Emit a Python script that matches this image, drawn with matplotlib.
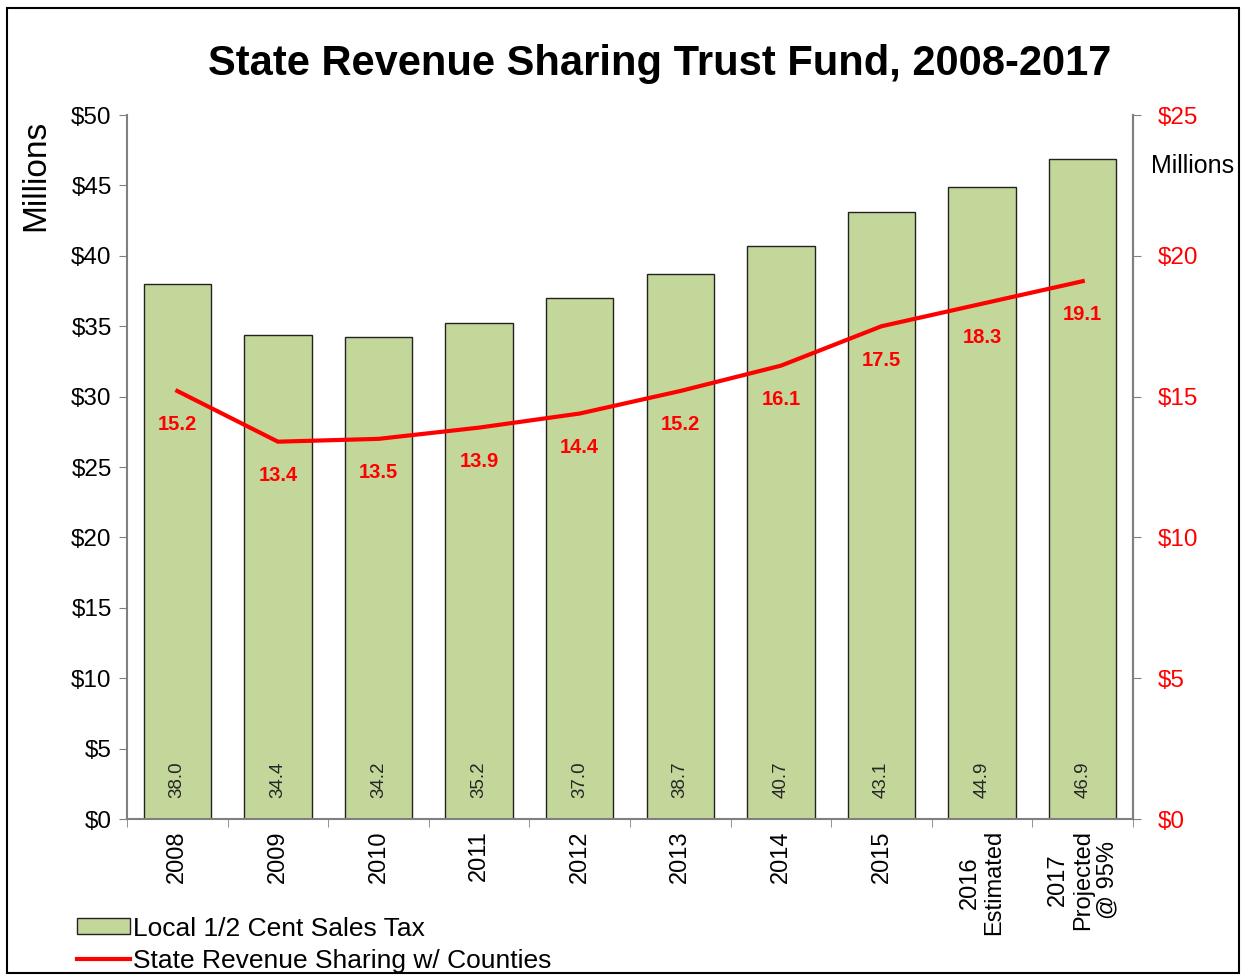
import matplotlib
matplotlib.use("Agg")
import matplotlib.pyplot as plt
import numpy as np
from matplotlib.patches import Rectangle

plt.rcParams['font.family'] = ['Liberation Sans', 'DejaVu Sans']

# data
years = ["2008", "2009", "2010", "2011", "2012", "2013", "2014", "2015",
         "2016\nEstimated", "2017\nProjected\n@ 95%"]
sales_tax = [38.0, 34.4, 34.2, 35.2, 37.0, 38.7, 40.7, 43.1, 44.9, 46.9]
state_sharing = [15.2, 13.4, 13.5, 13.9, 14.4, 15.2, 16.1, 17.5, 18.3, 19.1]

left_ticks = np.arange(0, 51, 5)
right_ticks = np.arange(0, 26, 5)

bar_colour = "#C4D79B"
line_colour = "#FF0000"
spine_colour = "#808080"

fig = plt.figure(figsize=(12.44, 9.75), dpi=100)
# outer border like the exported chart
fig.patches.append(Rectangle((0.006, 0.002), 0.99, 0.99, transform=fig.transFigure,
                             fill=False, edgecolor="black", linewidth=1.5))

ax = fig.add_axes([0.1021, 0.16, 0.8087, 0.722])
x = np.arange(len(years))
bars = ax.bar(x, sales_tax, width=0.67, color=bar_colour, edgecolor="#222222",
              linewidth=1.0, label="Local 1/2 Cent Sales Tax", zorder=2)
for xi, v in zip(x, sales_tax):
    ax.text(xi, 2.8, f"{v:.1f}", rotation=90, ha="center", va="center",
            fontsize=13.5, color="#262626", zorder=3)

ax.set_xlim(-0.5, len(years) - 0.5)
ax.set_ylim(0, 50)
ax.set_yticks(left_ticks)
ax.set_yticklabels([f"${t}" for t in left_ticks], fontsize=17.5)
ax.set_xticks(x)
ax.set_xticklabels(years, rotation=90, fontsize=17, va="top", ha="center",
                   multialignment="center", linespacing=1.15)
ax.tick_params(axis="x", length=0, pad=8)
ax.set_xticks(np.arange(-0.5, len(years), 1.0), minor=True)
ax.tick_params(axis="x", which="minor", length=6, color=spine_colour, direction="out")
ax.tick_params(axis="y", length=6, color=spine_colour, direction="out", pad=5)

ax.spines["top"].set_visible(False)
for side in ["left", "bottom", "right"]:
    ax.spines[side].set_color(spine_colour)
    ax.spines[side].set_linewidth(1.5)

ax2 = ax.twinx()
line, = ax2.plot(x, state_sharing, color=line_colour, linewidth=3,
                 label="State Revenue Sharing w/ Counties", zorder=4)
for xi, v in zip(x, state_sharing):
    ax2.text(xi, v - 1.2, f"{v:.1f}", ha="center", va="center", fontsize=14.5,
             fontweight="bold", color=line_colour)
ax2.set_ylim(0, 25)
ax2.set_yticks(right_ticks)
ax2.set_yticklabels([f"${t}" for t in right_ticks], fontsize=17.5, color=line_colour)
ax2.tick_params(axis="y", length=6, color=spine_colour, direction="out", pad=12)
for side in ["top", "left", "bottom"]:
    ax2.spines[side].set_visible(False)
ax2.spines["right"].set_color(spine_colour)
ax2.spines["right"].set_linewidth(1.5)

fig.text(0.530, 0.934, "State Revenue Sharing Trust Fund, 2008-2017", ha="center",
         va="center", fontsize=30, fontweight="bold")
fig.text(0.029, 0.8205, "Millions", rotation=90, ha="center", va="center", fontsize=24)
fig.text(0.959, 0.830, "Millions", ha="center", va="center", fontsize=18)

handles = [bars, line]
fig.legend(handles, [h.get_label() for h in handles], loc="lower left",
           bbox_to_anchor=(0.043, -0.022), frameon=False, fontsize=19,
           handlelength=2.0, handleheight=0.55, handletextpad=0.1, labelspacing=0.3)

fig.savefig("out.png", dpi=100)
